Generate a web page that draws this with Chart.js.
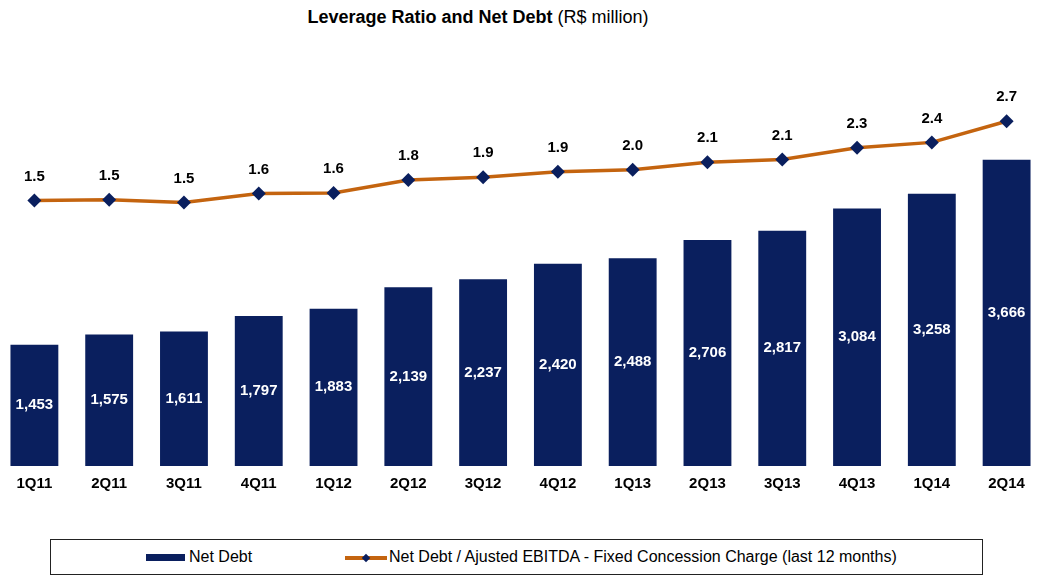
<!DOCTYPE html>
<html>
<head>
<meta charset="utf-8">
<script src="https://cdn.jsdelivr.net/npm/chart.js@4"></script>
<style>
  body { margin: 0; background: #fff; width: 1039px; height: 576px; overflow: hidden; position: relative;
         font-family: "Liberation Sans", Arial, sans-serif; }
  #title { position: absolute; top: 7px; left: 0; width: 956px; text-align: center; font-size: 18px; color: #000; }
  #title b { font-weight: bold; }
  #wrap { position: absolute; left: -3px; top: 0; width: 1047px; height: 510px; }
  #legend { position: absolute; left: 50px; top: 539px; width: 931px; height: 34px;
            border: 1px solid #222; font-size: 16px; color: #000; }
  .item { position: absolute; top: 0; height: 34px; line-height: 34px; white-space: nowrap; }
  .box { position: absolute; top: 14px; width: 39px; height: 7px; background: #0a1f5e; }
  .ln { position: absolute; top: 16px; width: 42px; height: 4px; background: #c4640f; }
  .dia { position: absolute; top: -1px; left: 18px; width: 6px; height: 6px; background: #0a1f5e; transform: rotate(45deg); }
</style>
</head>
<body>
<div id="title"><b>Leverage Ratio and Net Debt</b> (R$ million)</div>
<div id="wrap"><canvas id="leverageChart"></canvas></div>
<div id="legend">
  <div class="item" style="left:95px"><span class="box" style="left:0"></span><span style="margin-left:43px">Net Debt</span></div>
  <div class="item" style="left:294px"><span class="ln" style="left:0"><span class="dia"></span></span><span style="margin-left:44px">Net Debt / Ajusted EBITDA - Fixed Concession Charge (last 12 months)</span></div>
</div>
<script>
const quarters = ["1Q11", "2Q11", "3Q11", "4Q11", "1Q12", "2Q12", "3Q12", "4Q12", "1Q13", "2Q13", "3Q13", "4Q13", "1Q14", "2Q14"];
const netDebt = [1453, 1575, 1611, 1797, 1883, 2139, 2237, 2420, 2488, 2706, 2817, 3084, 3258, 3666];
const leverage = [1.52, 1.53, 1.49, 1.62, 1.63, 1.82, 1.86, 1.94, 1.97, 2.08, 2.12, 2.29, 2.37, 2.68];

const NAVY = "#0a1f5e";
const ORANGE = "#c4640f";

Chart.defaults.font.family = "'Liberation Sans', Arial, sans-serif";

// value labels: white inside the bars, black above the line points
const valueLabels = {
  id: "valueLabels",
  afterDatasetsDraw(chart) {
    const ctx = chart.ctx;
    ctx.save();
    ctx.font = "bold 15px 'Liberation Sans', Arial, sans-serif";
    ctx.textAlign = "center";
    ctx.textBaseline = "middle";
    chart.data.datasets.forEach((ds, i) => {
      const meta = chart.getDatasetMeta(i);
      meta.data.forEach((el, j) => {
        const v = ds.data[j];
        if (ds.type === "bar") {
          ctx.fillStyle = "#fff";
          ctx.fillText(v.toLocaleString("en-US"), el.x, (el.y + el.base) / 2);
        } else {
          ctx.fillStyle = "#000";
          ctx.fillText(v.toFixed(1), el.x, el.y - 24);
        }
      });
    });
    ctx.restore();
  }
};

new Chart(document.getElementById("leverageChart"), {
  data: {
    labels: quarters,
    datasets: [
      {
        type: "line",
        label: "Net Debt / Ajusted EBITDA - Fixed Concession Charge (last 12 months)",
        data: leverage,
        yAxisID: "y1",
        borderColor: ORANGE,
        borderWidth: 3.5,
        pointStyle: "rectRot",
        pointRadius: 7,
        pointBackgroundColor: NAVY,
        pointBorderColor: NAVY,
        pointBorderWidth: 0,
        tension: 0,
        order: 0
      },
      {
        type: "bar",
        label: "Net Debt",
        data: netDebt,
        yAxisID: "y",
        backgroundColor: NAVY,
        barPercentage: 0.64,
        categoryPercentage: 1,
        order: 1
      }
    ]
  },
  options: {
    responsive: true,
    maintainAspectRatio: false,
    animation: false,
    layout: { autoPadding: false, padding: { top: 40, bottom: 8, left: 0, right: 0 } },
    plugins: {
      legend: { display: false },
      title: { display: false },
      tooltip: { enabled: false }
    },
    scales: {
      x: {
        grid: { display: false, drawTicks: false },
        border: { display: false },
        ticks: {
          color: "#000",
          padding: 9,
          maxRotation: 0,
          font: { size: 15, weight: "bold" }
        }
      },
      y: {
        display: false,
        min: 0,
        max: 5100
      },
      y1: {
        display: false,
        min: -2.371,
        max: 3.87
      }
    }
  },
  plugins: [valueLabels]
});
</script>
</body>
</html>
